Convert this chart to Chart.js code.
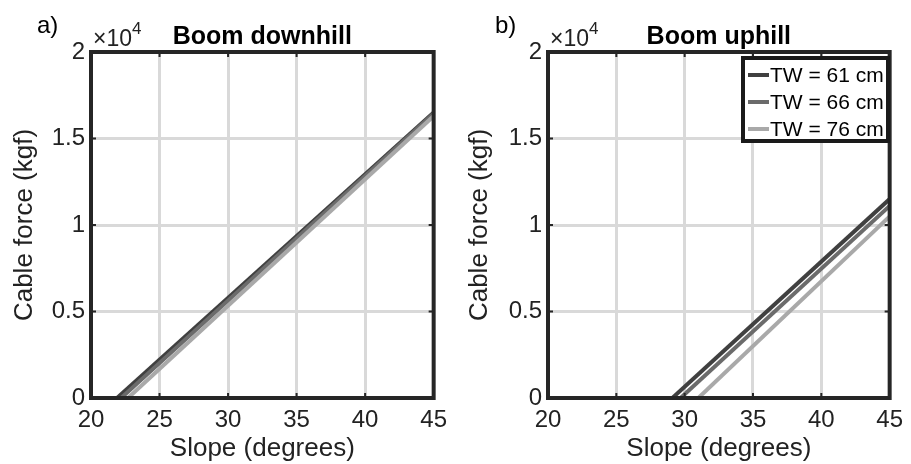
<!DOCTYPE html>
<html>
<head>
<meta charset="utf-8">
<script src="https://cdn.jsdelivr.net/npm/chart.js@4.4.1/dist/chart.umd.min.js"></script>
<style>
  html, body { margin: 0; padding: 0; background: #fff; }
  #wrap { position: relative; width: 911px; height: 464px; overflow: hidden; }
  #wrap canvas { position: absolute; top: 0; }
  #left { left: 0; }
  #right { left: 455px; }
</style>
</head>
<body>
<div id="wrap">
  <canvas id="left" width="455" height="464"></canvas>
  <canvas id="right" width="456" height="464"></canvas>
</div>
<script>
// ── Data ──
const seriesLabels = ['TW = 61 cm', 'TW = 66 cm', 'TW = 76 cm'];
const seriesColors = ['#404040', '#6b6b6b', '#a9a9a9'];
const slopeTicks = [20, 25, 30, 35, 40, 45];
const forceTicks = [0, 5000, 10000, 15000, 20000];

// Boom downhill: slope (deg) vs cable force (kgf), one pair per track width
const downhillSlope = [[21.9, 45], [22.2, 45], [22.7, 45]];
const downhillForce = [[0, 16500], [0, 16450], [0, 16300]];

// Boom uphill
const uphillSlope = [[29.1, 45], [29.7, 45], [31.0, 45]];
const uphillForce = [[0, 11500], [0, 11100], [0, 10500]];

const FONT = '"Liberation Sans", Arial, Helvetica, sans-serif';
const INK = '#222222';

// ── Overlay: box, inward ticks, title, panel tag, ×10^4, legend ──
const overlay = {
  id: 'overlay',
  afterDatasetsDraw(chart, args, opts) {
    const { ctx, chartArea: a, scales: { x, y } } = chart;
    ctx.save();

    // inward tick marks on all four sides
    ctx.strokeStyle = '#262626';
    ctx.lineWidth = 2;
    ctx.beginPath();
    slopeTicks.forEach(v => {
      const px = x.getPixelForValue(v);
      ctx.moveTo(px, a.top); ctx.lineTo(px, a.top + 5);
      ctx.moveTo(px, a.bottom); ctx.lineTo(px, a.bottom - 5);
    });
    forceTicks.forEach(v => {
      const py = y.getPixelForValue(v);
      ctx.moveTo(a.left, py); ctx.lineTo(a.left + 5, py);
      ctx.moveTo(a.right, py); ctx.lineTo(a.right - 5, py);
    });
    ctx.stroke();

    // axes box
    ctx.lineWidth = 4;
    ctx.strokeRect(a.left, a.top, a.right - a.left, a.bottom - a.top);

    // title
    ctx.fillStyle = '#000';
    ctx.textBaseline = 'alphabetic';
    ctx.textAlign = 'center';
    ctx.font = 'bold 25px ' + FONT;
    ctx.fillText(opts.title, (a.left + a.right) / 2, 44);

    // panel tag
    ctx.textAlign = 'left';
    ctx.font = '24px ' + FONT;
    ctx.fillText(opts.tag, opts.tagX, 33);

    // exponent label
    ctx.fillStyle = INK;
    ctx.font = '23px ' + FONT;
    ctx.fillText('×10', a.left + 2, 46);
    const w = ctx.measureText('×10').width;
    ctx.font = '17px ' + FONT;
    ctx.fillText('4', a.left + 2 + w, 34);

    // legend
    if (opts.legend) {
      const L = opts.legend;
      ctx.fillStyle = '#fff';
      ctx.fillRect(L.x, L.y, L.w, L.h);
      ctx.strokeStyle = '#1a1a1a';
      ctx.lineWidth = 4;
      ctx.strokeRect(L.x, L.y, L.w, L.h);
      ctx.font = '21px ' + FONT;
      ctx.textBaseline = 'middle';
      chart.data.datasets.forEach((ds, i) => {
        const cy = L.y + 17 + i * 27;
        ctx.strokeStyle = ds.borderColor;
        ctx.lineWidth = 4;
        ctx.beginPath();
        ctx.moveTo(L.x + 5, cy); ctx.lineTo(L.x + 26, cy);
        ctx.stroke();
        ctx.fillStyle = '#000';
        ctx.fillText(ds.label, L.x + 27, cy + 1);
      });
    }
    ctx.restore();
  }
};

function makeDatasets(xs, ys) {
  return seriesLabels.map((label, i) => ({
    label,
    data: xs[i].map((v, j) => ({ x: v, y: ys[i][j] })),
    borderColor: seriesColors[i],
    backgroundColor: seriesColors[i],
    borderWidth: 4,
    pointRadius: 0,
    tension: 0,
    order: seriesLabels.length - i
  }));
}

function makeChart(id, xs, ys, padRight, yWidth, overlayOpts) {
  return new Chart(document.getElementById(id), {
    type: 'line',
    data: { datasets: makeDatasets(xs, ys) },
    plugins: [overlay],
    options: {
      responsive: false,
      animation: false,
      events: [],
      layout: { padding: { left: 0, right: padRight, top: 52, bottom: 0 } },
      plugins: {
        legend: { display: false },
        tooltip: { enabled: false },
        overlay: overlayOpts
      },
      scales: {
        x: {
          type: 'linear',
          min: 20, max: 45,
          afterBuildTicks: s => { s.ticks = slopeTicks.map(v => ({ value: v })); },
          afterFit: s => { s.height = 66; },
          grid: { color: '#d9d9d9', lineWidth: 3, drawTicks: false },
          border: { display: false },
          ticks: { color: INK, font: { family: FONT, size: 24 }, padding: 8, maxRotation: 0 },
          title: { display: true, text: 'Slope (degrees)', color: INK, font: { family: FONT, size: 26 }, padding: { top: 0, bottom: 0 } }
        },
        y: {
          min: 0, max: 20000,
          afterBuildTicks: s => { s.ticks = forceTicks.map(v => ({ value: v })); },
          afterFit: s => { s.width = yWidth; },
          grid: { color: '#d9d9d9', lineWidth: 3, drawTicks: false },
          border: { display: false },
          ticks: { color: INK, font: { family: FONT, size: 24 }, padding: 6, callback: v => String(v / 10000) },
          title: { display: true, text: 'Cable force (kgf)', color: INK, font: { family: FONT, size: 26 }, padding: { top: 9, bottom: 0 } }
        }
      }
    }
  });
}

makeChart('left', downhillSlope, downhillForce, 17, 91,
  { title: 'Boom downhill', tag: 'a)', tagX: 37 });
makeChart('right', uphillSlope, uphillForce, 14, 93,
  { title: 'Boom uphill', tag: 'b)', tagX: 40,
    legend: { x: 288, y: 58, w: 145, h: 83 } });
</script>
</body>
</html>
